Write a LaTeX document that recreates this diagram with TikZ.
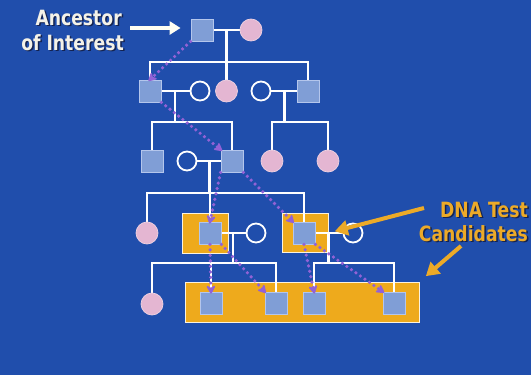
\documentclass[tikz,border=0pt]{standalone}
\usepackage{fontspec}
\newfontfamily\labfont[FakeStretch=0.82]{DejaVu Sans}
\usetikzlibrary{arrows.meta,calc}
\definecolor{bg}{RGB}{32,78,172}
\definecolor{sqblue}{RGB}{128,158,214}
\definecolor{sqedge}{RGB}{180,198,236}
\definecolor{pinkf}{RGB}{228,182,210}
\definecolor{pinke}{RGB}{240,210,225}
\definecolor{orangef}{RGB}{238,170,28}
\definecolor{purp}{RGB}{146,98,214}
\definecolor{labwhite}{RGB}{244,242,232}
\definecolor{labgold}{RGB}{236,170,40}
\definecolor{shad}{RGB}{20,35,80}
\pgfdeclarelayer{bgl}
\pgfdeclarelayer{lines}
\pgfsetlayers{bgl,lines,main}
\begin{document}
\begin{tikzpicture}[x=1pt,y=-1pt,
  sq/.style={rectangle, minimum size=22pt, inner sep=0pt, fill=sqblue, draw=sqedge, line width=0.8pt},
  fem/.style={circle, minimum size=22pt, inner sep=0pt, fill=pinkf, draw=pinke, line width=0.7pt},
  openc/.style={circle, minimum size=19pt, inner sep=0pt, fill=bg, draw=white, line width=1.8pt},
  pline/.style={draw=white, line width=2.6pt},
  dna/.style={draw=purp, line width=3.6pt, dash pattern=on 0pt off 5.5pt, line cap=round,
    -{Stealth[length=10pt,width=11pt,round]}, shorten >=-2pt},
  lab/.style={font=\labfont\bfseries\fontsize{21}{24}\selectfont, inner sep=0pt},
  obox/.style={fill=orangef, draw=white!85!orangef, line width=0.8pt}
]
\begin{pgfonlayer}{bgl}
  \fill[bg] (0,0) rectangle (531,375);
  \draw[obox] (182,213) rectangle (228,253);
  \draw[obox] (282,213) rectangle (328,252);
  \draw[obox] (185,282) rectangle (419,322);
\end{pgfonlayer}
\useasboundingbox (0,0) rectangle (531,375);

% generation 1
\node[sq]  (g1s) at (202,30) {};
\node[fem] (g1c) at (251,30) {};
% generation 2
\node[sq]    (g2a) at (150,91) {};
\node[openc] (g2b) at (200,91) {};
\node[fem]   (g2c) at (226.5,91) {};
\node[openc] (g2d) at (261,91) {};
\node[sq]    (g2e) at (308,91) {};
% generation 3
\node[sq]    (g3a) at (152,161) {};
\node[openc] (g3b) at (187,161) {};
\node[sq]    (g3c) at (232,161) {};
\node[fem]   (g3d) at (272,161) {};
\node[fem]   (g3e) at (328,161) {};
% generation 4
\node[fem]   (g4a) at (147,233) {};
\node[sq]    (g4b) at (210,233) {};
\node[openc] (g4c) at (256,233) {};
\node[sq]    (g4d) at (304,233) {};
\node[openc] (g4e) at (353,233) {};
% generation 5
\node[fem] (g5a) at (152,304) {};
\node[sq]  (g5b) at (211,303) {};
\node[sq]  (g5c) at (276,303) {};
\node[sq]  (g5d) at (314,303) {};
\node[sq]  (g5e) at (394,303) {};

\coordinate (s1) at (0,62);
\coordinate (s2) at (0,122);
\coordinate (s3) at (0,193);
\coordinate (s4) at (0,263);
\coordinate (m1) at ($(g1s)!0.5!(g1c)$);
\coordinate (m2) at ($(g2a)!0.5!(g2b)$);
\coordinate (m3) at ($(g2d)!0.5!(g2e)$);
\coordinate (m4) at ($(g3b)!0.5!(g3c)$);
\coordinate (m5) at ($(g4b)!0.5!(g4c)$);
\coordinate (m6) at ($(g4d)!0.5!(g4e)$);

\begin{pgfonlayer}{lines}
  % gen 1 family
  \draw[pline] (g1s) -- (g1c);
  \draw[pline] (m1) -- (g2c);
  \draw[pline] (g2a) -- (g2a |- s1) -- (g2e |- s1) -- (g2e);
  % gen 2 left family
  \draw[pline] (g2a) -- (g2b);
  \draw[pline] (m2) -- (m2 |- s2);
  \draw[pline] (g3a) -- (g3a |- s2) -- (g3c |- s2) -- (g3c);
  % gen 2 right family
  \draw[pline] (g2d) -- (g2e);
  \draw[pline] (m3) -- (m3 |- s2);
  \draw[pline] (g3d) -- (g3d |- s2) -- (g3e |- s2) -- (g3e);
  % gen 3 family
  \draw[pline] (g3b) -- (g3c);
  \draw[pline] (m4) -- (m4 |- s3);
  \draw[pline] (g4a) -- (g4a |- s3) -- (g4d |- s3) -- (g4d);
  \draw[pline] (g4b) -- (g4b |- s3);
  % gen 4 left family
  \draw[pline] (g4b) -- (g4c);
  \draw[pline] (m5) -- (m5 |- s4);
  \draw[pline] (g5a) -- (g5a |- s4) -- (g5c |- s4) -- (g5c);
  \draw[pline] (g5b) -- (g5b |- s4);
  % gen 4 right family
  \draw[pline] (g4d) -- (g4e);
  \draw[pline] (m6) -- (m6 |- s4);
  \draw[pline] (g5d) -- (g5d |- s4) -- (g5e |- s4) -- (g5e);
\end{pgfonlayer}

% Y-DNA paths
\draw[dna] (g1s.south west) -- (g2a.north);
\draw[dna] (g2a.south east) -- (g3c.north west);
\draw[dna] (g3c.south west) -- (g4b.north);
\draw[dna] (g3c.south east) -- (g4d.north west);
\draw[dna] (g4b.south) -- (g5b.north);
\draw[dna] (g4b.south east) -- (g5c.north west);
\draw[dna] (g4d.south) -- (g5d.north);
\draw[dna] (g4d.south east) -- (g5e.north west);

% labels
\node[lab, text=shad, anchor=base east] (anc1s) at (123.5,26.5) {Ancestor};
\node[lab, text=shad, anchor=base east] (anc2s) at (125.5,51.5) {of Interest};
\node[lab, text=labwhite, anchor=base east] (anc1) at (122,25) {Ancestor};
\node[lab, text=labwhite, anchor=base east] (anc2) at (124,50) {of Interest};

\node[lab, text=shad, anchor=base east] (dna1s) at (529.5,218.5) {DNA Test};
\node[lab, text=shad, anchor=base east] (dna2s) at (529.5,242.5) {Candidates};
\node[lab, text=labgold, anchor=base east] (dna1) at (528,217) {DNA Test};
\node[lab, text=labgold, anchor=base east] (dna2) at (528,241) {Candidates};

% pointer arrows
\coordinate (wa) at (130,28);
\draw[white!95!yellow, line width=3.5pt, -{Triangle[length=11pt,width=13pt]}, shorten >=10pt] (wa) -- (g1s.west |- wa);
\coordinate (oa1) at (424,208);
\coordinate (oa2) at (461,246);
\draw[labgold, line width=4pt, -{Triangle[length=13pt,width=15pt]}, shorten >=7pt] (oa1) -- (g4d.east -| 328,219);
\draw[labgold, line width=4pt, -{Triangle[length=13pt,width=15pt]}, shorten >=9pt] (oa2) -- (419,282);
\end{tikzpicture}
\end{document}
